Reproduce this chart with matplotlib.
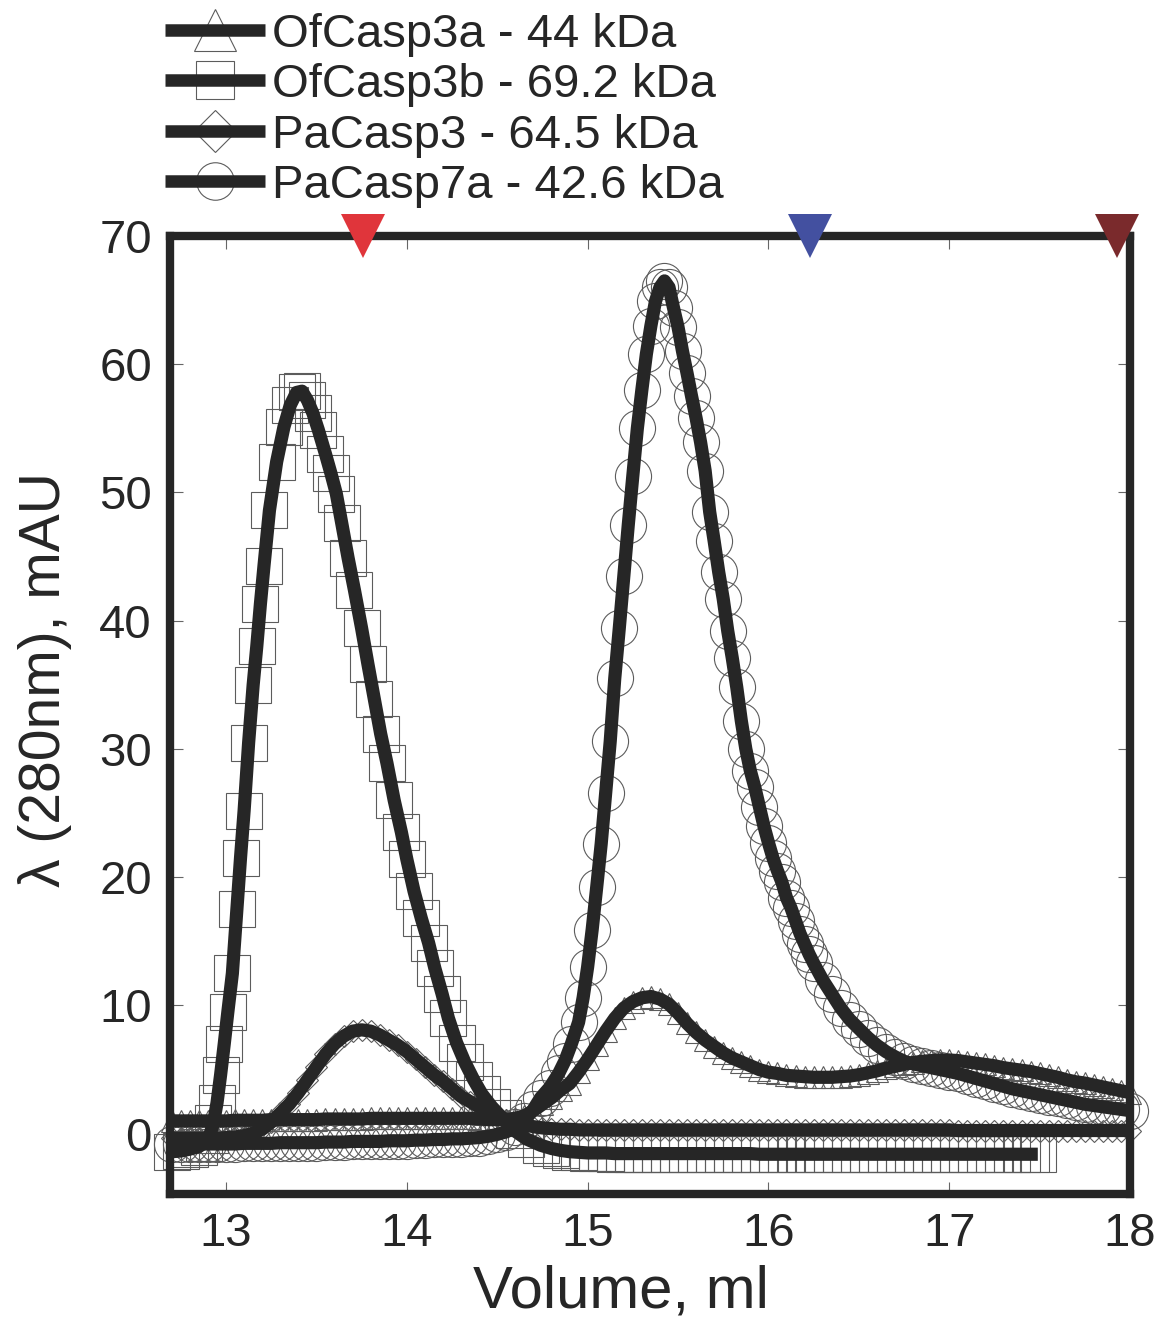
import matplotlib
matplotlib.use('Agg')
import matplotlib.pyplot as plt

plt.rcParams['font.family'] = ['Liberation Sans', 'DejaVu Sans']

# ---------------- data ----------------
labels = ['OfCasp3a - 44 kDa', 'OfCasp3b - 69.2 kDa', 'PaCasp3 - 64.5 kDa', 'PaCasp7a - 42.6 kDa']

vol_3a = [12.70, 12.75, 12.80, 12.85, 12.90, 12.95, 13.00, 13.05, 13.10,
          13.15, 13.20, 13.25, 13.30, 13.35, 13.40, 13.45, 13.50, 13.55,
          13.60, 13.65, 13.70, 13.75, 13.80, 13.85, 13.90, 13.95, 14.00,
          14.05, 14.10, 14.15, 14.20, 14.25, 14.30, 14.35, 14.40, 14.45,
          14.50, 14.55, 14.60, 14.65, 14.70, 14.75, 14.80, 14.85, 14.90,
          14.95, 15.00, 15.05, 15.10, 15.15, 15.20, 15.25, 15.30, 15.35,
          15.40, 15.45, 15.50, 15.55, 15.60, 15.65, 15.70, 15.75, 15.80,
          15.85, 15.90, 15.95, 16.00, 16.05, 16.10, 16.15, 16.20, 16.25,
          16.30, 16.35, 16.40, 16.45, 16.50, 16.55, 16.60, 16.65, 16.70,
          16.75, 16.80, 16.85, 16.90, 16.95, 17.00, 17.05, 17.10, 17.15,
          17.20, 17.25, 17.30, 17.35, 17.40, 17.45, 17.50, 17.55, 17.60,
          17.65, 17.70, 17.75, 17.80, 17.85, 17.90, 17.95, 18.00]
abs_3a = [1.0, 1.0, 1.0, 1.0, 1.0, 1.0, 1.0, 1.05, 1.05,
          1.05, 1.05, 1.1, 1.1, 1.1, 1.1, 1.1, 1.1, 1.15,
          1.15, 1.15, 1.15, 1.15, 1.2, 1.2, 1.2, 1.2, 1.2,
          1.2, 1.2, 1.2, 1.2, 1.2, 1.2, 1.2, 1.15, 1.1,
          1.1, 1.1, 1.2, 1.4, 1.8, 2.3, 2.8, 3.4, 3.9,
          4.8, 5.8, 6.9, 8.0, 9.0, 9.8, 10.3, 10.6, 10.7,
          10.5, 10.1, 9.4, 8.6, 7.9, 7.3, 6.8, 6.3, 5.9,
          5.6, 5.3, 5.0, 4.8, 4.7, 4.55, 4.5, 4.45, 4.4,
          4.4, 4.4, 4.45, 4.5, 4.6, 4.75, 4.9, 5.1, 5.25,
          5.4, 5.55, 5.65, 5.7, 5.75, 5.75, 5.7, 5.6, 5.5,
          5.4, 5.3, 5.15, 5.05, 4.95, 4.85, 4.7, 4.55, 4.4,
          4.2, 4.05, 3.95, 3.8, 3.65, 3.5, 3.35, 3.2]

vol_3b = [12.70, 12.75, 12.80, 12.85, 12.88, 12.91, 12.93, 12.95, 12.97,
          12.99, 13.01, 13.035, 13.06, 13.08, 13.10, 13.125, 13.15, 13.17,
          13.19, 13.21, 13.24, 13.28, 13.32, 13.355, 13.39, 13.42, 13.45,
          13.48, 13.51, 13.55, 13.58, 13.61, 13.64, 13.675, 13.71, 13.75,
          13.785, 13.82, 13.855, 13.89, 13.93, 13.97, 14.00, 14.04, 14.08,
          14.12, 14.155, 14.195, 14.23, 14.275, 14.32, 14.37, 14.415, 14.47,
          14.53, 14.59, 14.66, 14.74, 14.80, 14.85, 14.90, 14.95, 15.00,
          15.05, 15.10, 15.15, 15.20, 15.25, 15.30, 15.35, 15.40, 15.45,
          15.50, 15.55, 15.60, 15.65, 15.70, 15.75, 15.80, 15.85, 15.90,
          15.95, 16.00, 16.05, 16.10, 16.15, 16.20, 16.25, 16.30, 16.35,
          16.40, 16.45, 16.50, 16.55, 16.60, 16.65, 16.70, 16.75, 16.80,
          16.85, 16.90, 16.95, 17.00, 17.05, 17.10, 17.15, 17.20, 17.25,
          17.30, 17.35, 17.40, 17.45, 17.49]
abs_3b = [-1.4, -1.35, -1.2, -1.0, -0.7, -0.1, 0.8, 2.4, 4.6,
          7.0, 9.5, 12.5, 17.5, 21.5, 25.2, 30.5, 35.0, 38.0,
          41.3, 44.3, 48.6, 52.4, 55.1, 56.8, 57.8, 57.9, 57.2,
          56.2, 54.9, 53.0, 51.5, 49.9, 47.6, 44.9, 42.4, 39.4,
          36.6, 33.9, 31.2, 28.9, 26.0, 23.5, 21.4, 18.9, 16.8,
          14.9, 12.9, 10.9, 9.0, 7.1, 5.6, 4.2, 3.1, 2.1,
          1.2, 0.3, -0.4, -0.9, -1.15, -1.3, -1.4, -1.45, -1.5,
          -1.5, -1.5, -1.55, -1.55, -1.55, -1.55, -1.55, -1.55, -1.55,
          -1.55, -1.55, -1.55, -1.55, -1.55, -1.55, -1.55, -1.55, -1.55,
          -1.6, -1.6, -1.6, -1.6, -1.6, -1.6, -1.6, -1.6, -1.6,
          -1.6, -1.6, -1.6, -1.6, -1.6, -1.6, -1.6, -1.6, -1.6,
          -1.6, -1.6, -1.6, -1.6, -1.6, -1.6, -1.6, -1.6, -1.6,
          -1.6, -1.6, -1.6, -1.6, -1.6]

vol_p3 = [12.70, 12.75, 12.80, 12.85, 12.90, 12.95, 13.00, 13.05, 13.10,
          13.15, 13.20, 13.25, 13.30, 13.35, 13.40, 13.45, 13.50, 13.55,
          13.60, 13.65, 13.70, 13.75, 13.80, 13.85, 13.90, 13.95, 14.00,
          14.05, 14.10, 14.15, 14.20, 14.25, 14.30, 14.35, 14.40, 14.45,
          14.50, 14.55, 14.60, 14.65, 14.70, 14.75, 14.80, 14.85, 14.90,
          14.95, 15.00, 15.05, 15.10, 15.15, 15.20, 15.25, 15.30, 15.35,
          15.40, 15.45, 15.50, 15.55, 15.60, 15.65, 15.70, 15.75, 15.80,
          15.85, 15.90, 15.95, 16.00, 16.05, 16.10, 16.15, 16.20, 16.25,
          16.30, 16.35, 16.40, 16.45, 16.50, 16.55, 16.60, 16.65, 16.70,
          16.75, 16.80, 16.85, 16.90, 16.95, 17.00, 17.05, 17.10, 17.15,
          17.20, 17.25, 17.30, 17.35, 17.40, 17.45, 17.50, 17.55, 17.60,
          17.65, 17.70, 17.75, 17.80, 17.85, 17.90, 17.95, 18.00]
abs_p3 = [-0.35, -0.35, -0.35, -0.35, -0.35, -0.35, -0.3, -0.25, -0.15,
          0.05, 0.35, 0.9, 1.6, 2.3, 3.2, 4.2, 5.2, 6.2,
          7.0, 7.6, 8.0, 8.1, 8.0, 7.7, 7.3, 6.9, 6.4,
          5.8, 5.2, 4.6, 4.1, 3.5, 2.9, 2.5, 2.1, 1.7,
          1.4, 1.1, 0.9, 0.7, 0.55, 0.45, 0.4, 0.35, 0.35,
          0.3, 0.3, 0.3, 0.3, 0.3, 0.3, 0.3, 0.3, 0.3,
          0.3, 0.3, 0.3, 0.3, 0.3, 0.3, 0.3, 0.3, 0.3,
          0.3, 0.3, 0.3, 0.3, 0.3, 0.3, 0.3, 0.3, 0.3,
          0.3, 0.3, 0.3, 0.3, 0.3, 0.3, 0.3, 0.3, 0.3,
          0.3, 0.3, 0.3, 0.3, 0.3, 0.3, 0.25, 0.25, 0.25,
          0.25, 0.25, 0.25, 0.25, 0.25, 0.25, 0.25, 0.25, 0.25,
          0.25, 0.25, 0.25, 0.25, 0.25, 0.25, 0.25, 0.25]

vol_7a = [12.70, 12.75, 12.80, 12.85, 12.90, 12.95, 13.00, 13.05, 13.10,
          13.15, 13.20, 13.25, 13.30, 13.35, 13.40, 13.45, 13.50, 13.55,
          13.60, 13.65, 13.70, 13.75, 13.80, 13.85, 13.90, 13.95, 14.00,
          14.05, 14.10, 14.15, 14.20, 14.25, 14.30, 14.35, 14.40, 14.45,
          14.50, 14.55, 14.60, 14.65, 14.70, 14.74, 14.79, 14.84, 14.875,
          14.91, 14.95, 14.975, 15.00, 15.025, 15.05, 15.075, 15.10, 15.125,
          15.15, 15.175, 15.20, 15.225, 15.25, 15.275, 15.30, 15.325, 15.35,
          15.375, 15.40, 15.425, 15.45, 15.475, 15.50, 15.525, 15.55, 15.575,
          15.60, 15.625, 15.65, 15.675, 15.70, 15.725, 15.75, 15.775, 15.80,
          15.825, 15.85, 15.875, 15.90, 15.925, 15.95, 15.975, 16.00, 16.025,
          16.05, 16.075, 16.10, 16.125, 16.15, 16.175, 16.20, 16.225, 16.25,
          16.30, 16.35, 16.40, 16.45, 16.50, 16.55, 16.60, 16.65, 16.70,
          16.75, 16.80, 16.85, 16.90, 16.95, 17.00, 17.05, 17.10, 17.15,
          17.20, 17.25, 17.30, 17.35, 17.40, 17.45, 17.50, 17.55, 17.60,
          17.65, 17.70, 17.75, 17.80, 17.85, 17.90, 17.95, 18.00]
abs_7a = [-0.8, -0.8, -0.8, -0.8, -0.8, -0.8, -0.8, -0.8, -0.75,
          -0.75, -0.75, -0.75, -0.7, -0.7, -0.7, -0.7, -0.7, -0.65,
          -0.65, -0.65, -0.6, -0.6, -0.6, -0.6, -0.55, -0.55, -0.55,
          -0.5, -0.5, -0.45, -0.45, -0.4, -0.4, -0.35, -0.3, -0.2,
          -0.05, 0.15, 0.5, 1.0, 1.9, 2.8, 3.6, 4.7, 5.7,
          7.0, 8.7, 10.6, 13.0, 15.9, 19.2, 22.6, 26.6, 30.6,
          35.5, 39.4, 43.5, 47.5, 51.3, 55.0, 58.0, 60.8, 63.0,
          64.9, 66.0, 66.5, 66.0, 64.4, 62.9, 61.0, 59.3, 57.5,
          55.8, 53.9, 51.7, 48.5, 46.2, 43.8, 41.7, 39.2, 37.1,
          34.8, 32.2, 30.0, 28.3, 27.0, 25.5, 24.0, 22.7, 21.5,
          20.5, 19.6, 18.4, 17.6, 16.6, 15.6, 14.8, 14.0, 13.3,
          12.0, 10.9, 9.8, 8.9, 8.2, 7.5, 6.9, 6.4, 6.0,
          5.65, 5.45, 5.3, 5.15, 5.0, 4.85, 4.7, 4.5, 4.3,
          4.1, 3.9, 3.7, 3.5, 3.35, 3.2, 3.05, 2.9, 2.75,
          2.6, 2.45, 2.3, 2.2, 2.1, 2.0, 1.9, 1.8]

standard_volumes = [13.76, 16.23, 17.93]
standard_colors = ['#e0353b', '#4350a0', '#7a2a2c']

x_ticks = [13, 14, 15, 16, 17, 18]
y_ticks = [0, 10, 20, 30, 40, 50, 60, 70]

# ---------------- figure ----------------
W, H = 1160, 1321
fig = plt.figure(figsize=(W / 100, H / 100), dpi=100)
ax = fig.add_axes([170 / W, 1 - 1194 / H, (1130 - 170) / W, (1194 - 236) / H])

LINE = '#262626'
EDGE = '#5c5c5c'
series = [
    (vol_3a, abs_3a, '^', 16),
    (vol_3b, abs_3b, 's', 26.5),
    (vol_p3, abs_p3, 'D', 11),
    (vol_7a, abs_7a, 'o', 26),
]
for v, a, m, ms in series:
    ax.plot(v, a, ls='none', marker=m, ms=ms, mfc='none', mec=EDGE,
            mew=0.8, zorder=2, clip_on=False)
for v, a, m, ms in series:
    ax.plot(v, a, color=LINE, lw=9.5, solid_capstyle='butt',
            solid_joinstyle='round', zorder=3)

for xv, c in zip(standard_volumes, standard_colors):
    ax.plot([xv], [70], marker='v', ms=31, color=c, mew=0, ls='none',
            zorder=6, clip_on=False)

ax.set_xlim(12.69, 18.0)
ax.set_ylim(-4.7, 70)
ax.set_xticks(x_ticks)
ax.set_yticks(y_ticks)
ax.tick_params(direction='in', length=9, width=0.8, color='#666666',
               top=True, right=True, labelsize=34, labelcolor=LINE)
ax.tick_params(axis='x', pad=13)
ax.tick_params(axis='y', pad=13)
for s in ax.spines.values():
    s.set_linewidth(6)
    s.set_color(LINE)
    s.set_zorder(5)

fig.text(621 / W, 1 - 1292 / H, 'Volume, ml', fontsize=43, color=LINE,
         ha='center', va='center')
fig.text(45 / W, 1 - 680 / H, 'λ (280nm), mAU', fontsize=41, color=LINE,
         ha='center', va='center', rotation=90)

# ---------------- legend (drawn in pixel space) ----------------
lax = fig.add_axes([0, 0, 1, 1])
lax.set_xlim(0, W)
lax.set_ylim(H, 0)
lax.axis('off')
legend_markers = [('^', 30), ('s', 28), ('D', 21), ('o', 27)]
rows = [30, 80, 130.5, 181]
for (m, ms), lab, yr in zip(legend_markers, labels, rows):
    lax.plot([215], [yr], marker=m, ms=ms, mfc='none', mec=EDGE, mew=0.8,
             ls='none', zorder=2)
    lax.plot([165, 265], [yr, yr], color=LINE, lw=9, solid_capstyle='butt',
             zorder=3)
    lax.text(272, yr + 17, lab, fontsize=34, color=LINE, ha='left',
             va='baseline')

fig.savefig('out.png', dpi=100)
